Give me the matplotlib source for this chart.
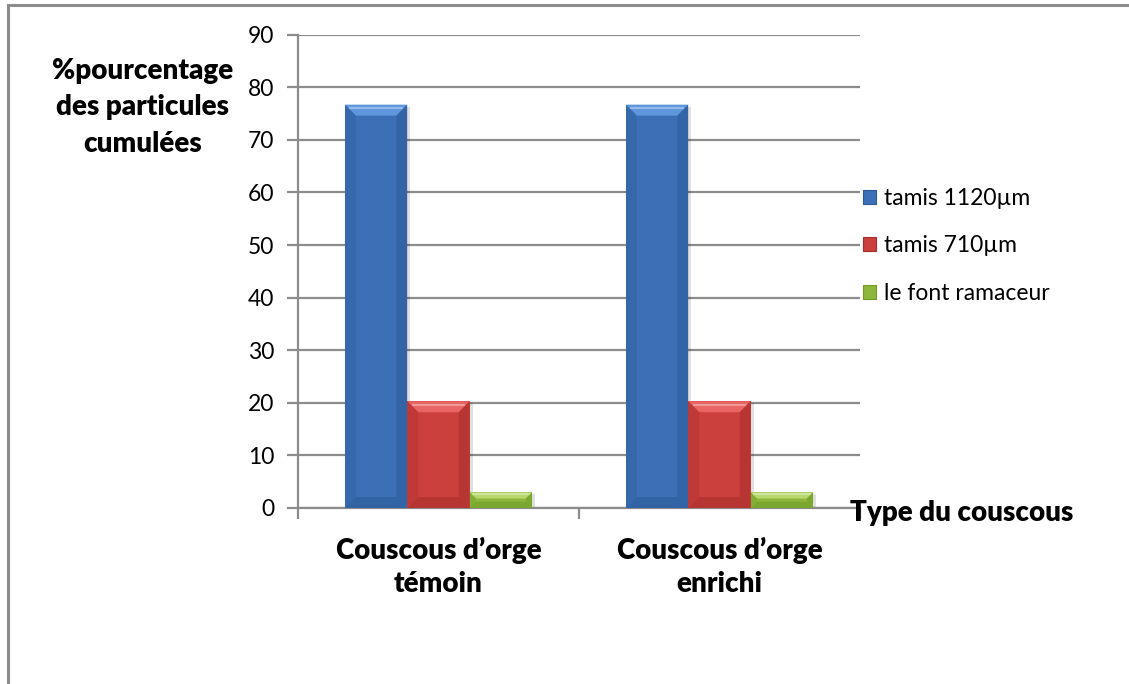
import matplotlib
matplotlib.use("Agg")
import matplotlib.pyplot as plt
import numpy as np
from matplotlib.patches import Polygon, Rectangle
from matplotlib.lines import Line2D

# data
categories = ["Couscous d\u2019orge\ntémoin", "Couscous d\u2019orge\nenrichi"]
series_names = ["tamis 1120\u00b5m", "tamis 710\u00b5m", "le font ramaceur"]
tamis_1120 = [76.7, 76.7]
tamis_710 = [20.3, 20.3]
font_ramaceur = [3.0, 3.0]
yticks = [0, 10, 20, 30, 40, 50, 60, 70, 80, 90]

# base / light / dark shades per series (bevelled office look)
palette = [
    ("#3b70b6", "#5f97dc", "#2a5a98"),
    ("#cb3f3c", "#e86563", "#a52e2c"),
    ("#8cb73c", "#b6d86c", "#6f9a26"),
]

plt.rcParams["font.family"] = ["Lato", "DejaVu Sans"]
grid_col = "#8c8c8c"

fig = plt.figure(figsize=(11.29, 6.84), dpi=100)
ax = fig.add_axes([298 / 1129, 1 - 508 / 684, 562 / 1129, (508 - 34.7) / 684])

x = np.arange(len(categories))
width = 0.222
values = [tamis_1120, tamis_710, font_ramaceur]

# pixel -> data conversions for the bevel size
ax.set_xlim(-0.5, 1.5)
ax.set_ylim(0, 90)
px_x = 2.0 / 562
px_y = 90 / (508 - 34.7)


def bevel_bar(ax, x0, w, h, shades):
    base, light, dark = shades
    # soft shadow
    ax.add_patch(Rectangle((x0 + 3 * px_x, -2 * px_y), w, h, facecolor="#000000",
                           alpha=0.12, lw=0, zorder=2))
    ax.add_patch(Rectangle((x0, 0), w, h, facecolor=base, lw=0, zorder=3))
    b = min(11, h / px_y * 0.4)
    bx, by = b * px_x, b * px_y
    x1, y1 = x0 + w, h
    # top band
    ax.add_patch(Polygon([(x0, y1), (x1, y1), (x1 - bx, y1 - by), (x0 + bx, y1 - by)],
                         closed=True, facecolor=light, lw=0, zorder=4))
    # sides
    ax.add_patch(Polygon([(x0, 0), (x0, y1), (x0 + bx, y1 - by), (x0 + bx, by)],
                         closed=True, facecolor=dark, alpha=0.3, lw=0, zorder=4))
    ax.add_patch(Polygon([(x1, 0), (x1, y1), (x1 - bx, y1 - by), (x1 - bx, by)],
                         closed=True, facecolor=dark, alpha=0.5, lw=0, zorder=4))
    # bottom
    ax.add_patch(Polygon([(x0, 0), (x1, 0), (x1 - bx, by), (x0 + bx, by)],
                         closed=True, facecolor=dark, alpha=0.55, lw=0, zorder=4))
    # highlight line at the top
    ax.plot([x0 + bx * 0.4, x1 - bx * 0.4], [y1 - by * 0.3] * 2, color="white",
            alpha=0.35, lw=1.5, zorder=5, solid_capstyle="butt")


for i, (vals, shades) in enumerate(zip(values, palette)):
    for xi, v in zip(x, vals):
        bevel_bar(ax, xi + (i - 1.5) * width, width, v, shades)

# axes styling
ax.set_yticks(yticks)
ax.yaxis.grid(True, color=grid_col, lw=1.6)
ax.set_axisbelow(True)
for s in ["top", "right"]:
    ax.spines[s].set_visible(False)
for s in ["left", "bottom"]:
    ax.spines[s].set_color(grid_col)
    ax.spines[s].set_linewidth(1.6)
ax.tick_params(axis="y", length=8, width=1.6, color=grid_col, labelsize=16.5, pad=9)
ax.set_xticks(x)
ax.set_xticklabels(categories, fontsize=20, fontweight="heavy", linespacing=1.3)
ax.set_xticks([-0.5, 0.5, 1.5], minor=True)
ax.tick_params(axis="x", which="major", length=0, pad=21)
ax.tick_params(axis="x", which="minor", length=8, width=1.6, color=grid_col)

fig.text(143 / 1129, 1 - 107 / 684, "%pourcentage\ndes particules\ncumulées",
         ha="center", va="center", fontsize=20, fontweight="heavy", linespacing=1.5)
fig.text(850 / 1129, 1 - 513 / 684, "Type du couscous", ha="left", va="center",
         fontsize=20, fontweight="heavy")

handles = [Rectangle((0, 0), 1, 1, facecolor=p[0], edgecolor=p[2], lw=0.8) for p in palette]
fig.legend(handles, series_names, loc="center left",
           bbox_to_anchor=(863 / 1129, 1 - 246 / 684), frameon=False, fontsize=16.5,
           handlelength=0.55, handleheight=0.55, handletextpad=0.35, labelspacing=1.15,
           borderaxespad=0, borderpad=0)

# outer chart frame
fig.add_artist(Line2D([8 / 1129, 8 / 1129], [0, 1 - 5 / 684], color="#8c8c8c", lw=2.2))
fig.add_artist(Line2D([8 / 1129, 1], [1 - 5 / 684, 1 - 5 / 684], color="#8c8c8c", lw=2.2))

fig.savefig("out.png", dpi=100)
